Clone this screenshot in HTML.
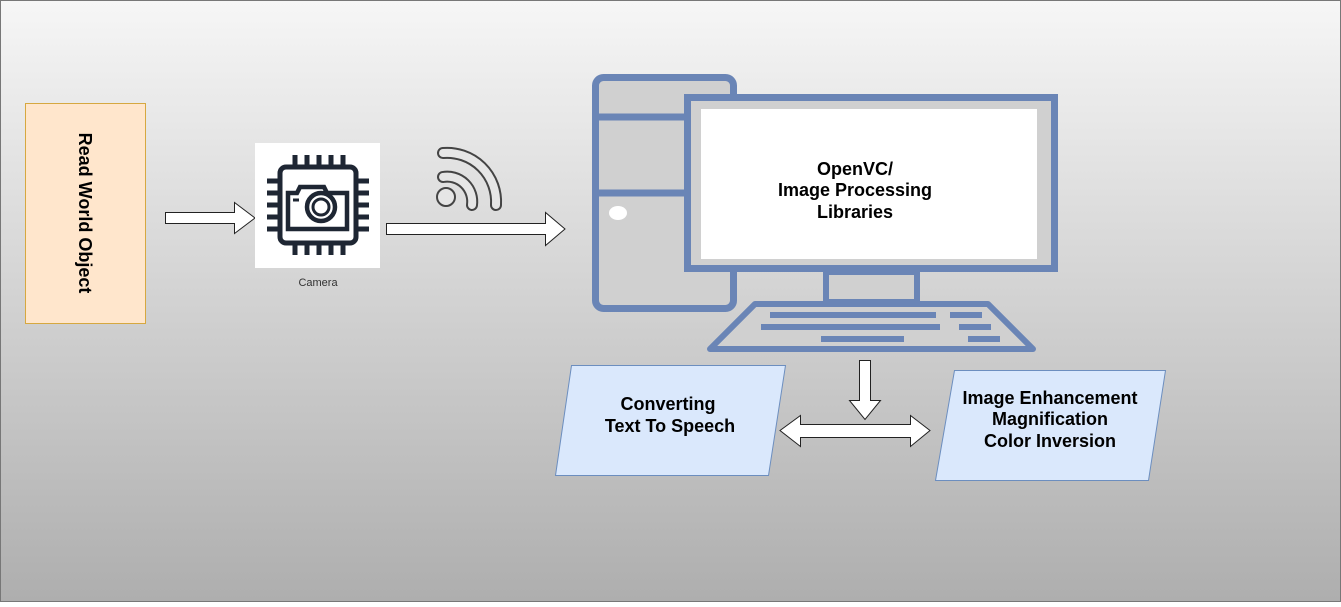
<!DOCTYPE html>
<html><head><meta charset="utf-8"><style>
html,body{margin:0;padding:0}
body{width:1341px;height:602px;overflow:hidden;font-family:"Liberation Sans",Arial,sans-serif}
</style></head><body>
<svg width="1341" height="602" xmlns="http://www.w3.org/2000/svg" font-family="Liberation Sans, Arial, sans-serif">
<defs><linearGradient id="bg" x1="0" y1="0" x2="0" y2="1"><stop offset="0" stop-color="#f6f6f6"/><stop offset="1" stop-color="#aeaeae"/></linearGradient></defs>
<rect x="0.5" y="0.5" width="1340" height="601" fill="url(#bg)" stroke="#777"/>
<!-- left box -->
<rect x="25.5" y="103.5" width="120" height="220" fill="#ffe6cc" stroke="#d6a840"/>
<text transform="translate(79,213) rotate(90)" text-anchor="middle" font-size="18" font-weight="bold" fill="#000">Read World Object</text>
<!-- arrows -->
<path d="M165.5 212.5 H234.5 V202.5 L255 218 L234.5 233.5 V223.5 H165.5 Z" fill="#fff" stroke="#222"/>
<path d="M386.5 223.5 H545.5 V212.5 L565 229 L545.5 245.5 V234.5 H386.5 Z" fill="#fff" stroke="#222"/>
<!-- camera -->
<rect x="255" y="143" width="125" height="125" fill="#fff"/>
<g stroke="#1e2633" fill="none" stroke-width="5">
<rect x="280" y="167" width="76" height="76" rx="6"/>
<path d="M295 155v12M307 155v12M319 155v12M331 155v12M343 155v12M295 243v12M307 243v12M319 243v12M331 243v12M343 243v12M267 181h13M267 193h13M267 205h13M267 217h13M267 229h13M356 181h13M356 193h13M356 205h13M356 217h13M356 229h13"/>
<path d="M288 193h9l3-6h24l3 6h20v36h-59z" stroke-width="4.5"/>
<circle cx="321" cy="207" r="14" stroke-width="4.5"/>
<circle cx="321" cy="207" r="8" stroke-width="3"/>
<path d="M293 200h6" stroke-width="3"/>
</g>
<text x="318" y="286" text-anchor="middle" font-size="11" fill="#333">Camera</text>
<!-- wifi -->
<g fill="none" stroke-linecap="round">
<path d="M443 177 A25 25 0 0 1 472 205" stroke="#444" stroke-width="12"/>
<path d="M443 177 A25 25 0 0 1 472 205" stroke="#e6e6e6" stroke-width="8"/>
<path d="M443 153 A49 49 0 0 1 496 205" stroke="#444" stroke-width="12"/>
<path d="M443 153 A49 49 0 0 1 496 205" stroke="#e6e6e6" stroke-width="8"/>
<circle cx="446" cy="197" r="9" stroke="#444" stroke-width="2" fill="#e6e6e6"/>
</g>
<!-- computer tower -->
<rect x="595.5" y="77.5" width="138" height="231" rx="8" fill="#d0d0d0" stroke="#6a85b6" stroke-width="7"/>
<path d="M596 117H684M596 193H684" stroke="#6a85b6" stroke-width="7"/>
<ellipse cx="618" cy="213" rx="9" ry="7" fill="#fff"/>
<!-- monitor -->
<rect x="687.5" y="97.5" width="367" height="171" fill="#d0d0d0" stroke="#6a85b6" stroke-width="7"/>
<rect x="701" y="109" width="336" height="150" fill="#fff"/>
<rect x="826" y="272" width="91" height="30" fill="#d0d0d0" stroke="#6a85b6" stroke-width="6"/>
<path d="M755 304H988L1033 349H710Z" fill="#d0d0d0" stroke="#6a85b6" stroke-width="6" stroke-linejoin="round"/>
<g fill="#6a85b6">
<rect x="770" y="312" width="166" height="6"/><rect x="950" y="312" width="32" height="6"/>
<rect x="761" y="324" width="179" height="6"/><rect x="959" y="324" width="32" height="6"/>
<rect x="821" y="336" width="83" height="6"/><rect x="968" y="336" width="32" height="6"/>
</g>
<g font-size="18" font-weight="bold" text-anchor="middle" fill="#000">
<text x="855" y="175">OpenVC/</text>
<text x="855" y="196">Image Processing</text>
<text x="855" y="218">Libraries</text>
</g>
<!-- parallelograms -->
<path d="M571.5 365.5H785.5L768.5 475.5H555.5Z" fill="#dae8fc" stroke="#6c8ebf"/>
<path d="M954.5 370.5H1165.5L1148.5 480.5H935.5Z" fill="#dae8fc" stroke="#6c8ebf"/>
<g font-size="18" font-weight="bold" text-anchor="middle" fill="#000">
<text x="668" y="410">Converting</text>
<text x="670" y="432">Text To Speech</text>
<text x="1050" y="404">Image Enhancement</text>
<text x="1050" y="425">Magnification</text>
<text x="1050" y="447">Color Inversion</text>
</g>
<!-- down arrow -->
<path d="M859.5 360.5H870.5V400.5H880.5L865 419.5L849.5 400.5H859.5Z" fill="#fff" stroke="#222"/>
<!-- double arrow -->
<path d="M780 430.5L800.5 415.5V424.5H910.5V415.5L930 430.5L910.5 446.5V437.5H800.5V446.5Z" fill="#fff" stroke="#222"/>
</svg>
</body></html>
